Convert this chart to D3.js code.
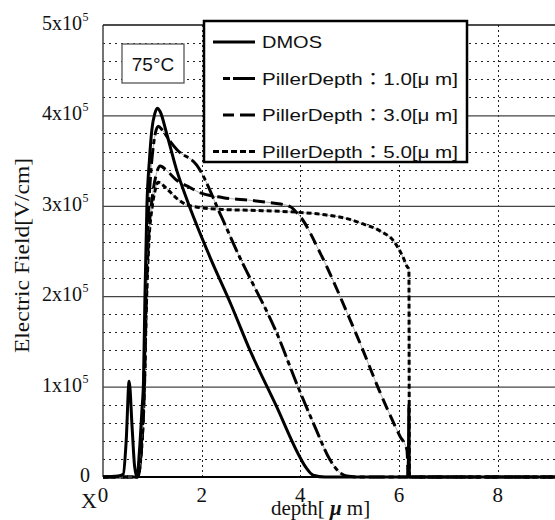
<!DOCTYPE html>
<html>
<head>
<meta charset="utf-8">
<script src="https://cdn.jsdelivr.net/npm/d3@7"></script>
<style>
  body { margin: 0; background: #fff; }
  svg { display: block; }
</style>
</head>
<body>
<svg id="chart" width="555" height="520"></svg>
<script>
// values, field in units of 1x10^5 V/cm
const dmosDepth = [0, 0.30, 0.41, 0.47, 0.53, 0.59, 0.64, 0.69, 0.74, 0.79, 0.82, 0.85, 0.89, 0.94, 0.99, 1.05, 1.10, 1.16, 1.29, 1.49, 1.70, 2.17, 2.60, 2.98, 3.50, 4.00, 4.12, 4.26, 4.50, 6.17, 6.19, 6.20, 6.21, 10];
const dmosField = [0, 0.01, 0.03, 0.40, 1.06, 0.55, 0.12, 0, 0.30, 0.75, 1.05, 2.00, 3.00, 3.50, 3.84, 4.02, 4.08, 4.04, 3.80, 3.40, 3.07, 2.43, 1.90, 1.40, 0.80, 0.21, 0.10, 0.02, 0, 0, 0.20, 0.80, 0, 0];

const p1Depth = [0, 0.70, 0.77, 0.83, 0.87, 0.91, 0.96, 1.02, 1.12, 1.20, 1.35, 1.50, 1.90, 2.40, 2.78, 2.98, 3.50, 3.95, 4.30, 4.60, 4.80, 4.94, 5.20, 10];
const p1Field = [0, 0, 0.30, 1.00, 2.00, 2.80, 3.30, 3.66, 3.88, 3.84, 3.72, 3.62, 3.45, 2.88, 2.42, 2.20, 1.62, 1.00, 0.55, 0.19, 0.05, 0.01, 0, 0];

const p3Depth = [0, 0.70, 0.78, 0.84, 0.88, 0.93, 1.00, 1.08, 1.16, 1.29, 1.50, 1.77, 1.90, 2.44, 3.00, 3.31, 3.60, 3.80, 3.90, 4.00, 4.40, 5.00, 5.21, 5.62, 6.02, 6.16, 6.19, 10];
const p3Field = [0, 0, 0.30, 1.00, 2.00, 2.70, 3.10, 3.35, 3.44, 3.39, 3.28, 3.20, 3.16, 3.09, 3.06, 3.04, 3.02, 2.99, 2.94, 2.88, 2.48, 1.75, 1.48, 0.93, 0.45, 0.30, 0, 0];

const p5Depth = [0, 0.70, 0.78, 0.84, 0.88, 0.93, 1.00, 1.06, 1.12, 1.29, 1.50, 1.76, 2.40, 3.00, 3.90, 4.50, 5.00, 5.21, 5.62, 5.89, 6.09, 6.16, 6.20, 6.21, 10];
const p5Field = [0, 0, 0.30, 1.00, 1.90, 2.60, 3.00, 3.18, 3.26, 3.19, 3.08, 3.00, 2.96, 2.95, 2.93, 2.90, 2.85, 2.81, 2.72, 2.61, 2.42, 2.33, 2.30, 0, 0];

const seriesNames = ["DMOS", "PillerDepth\uFF1A1.0[\u03BC m]", "PillerDepth\uFF1A3.0[\u03BC m]", "PillerDepth\uFF1A5.0[\u03BC m]"];
const xTicks = [0, 2, 4, 6, 8];
const xGrid = [2, 4, 6, 8, 10];
const yTicks = [0, 1, 2, 3, 4, 5];
const yMinorTicks = [0.2, 0.4, 0.6, 0.8, 1.2, 1.4, 1.6, 1.8, 2.2, 2.4, 2.6, 2.8, 3.2, 3.4, 3.6, 3.8, 4.2, 4.4, 4.6, 4.8];
const tempLabel = "75\u00B0C";

const serif = "'Liberation Serif', 'Times New Roman', serif";
const sans = "'Liberation Sans', Arial, 'Noto Sans CJK JP', sans-serif";

const svg = d3.select("#chart");

const x = d3.scaleLinear().domain([0, 10]).range([103, 596.4]);
const y = d3.scaleLinear().domain([0, 5]).range([477, 25]);
const right = 555;

// minor dotted horizontal grid
svg.append("g")
    .attr("transform", `translate(${x(0)},0)`)
    .call(d3.axisLeft(y).tickValues(yMinorTicks).tickSize(-(right - x(0))).tickFormat(""))
    .call(g => g.select(".domain").remove())
    .call(g => g.selectAll(".tick line")
        .attr("stroke", "#222")
        .attr("stroke-width", 1)
        .attr("shape-rendering", "crispEdges")
        .attr("stroke-dasharray", "2,4"));

// vertical dotted grid
svg.append("g")
    .attr("transform", `translate(0,${y(0)})`)
    .call(d3.axisBottom(x).tickValues(xGrid).tickSize(-(y(0) - y(5))).tickFormat(""))
    .call(g => g.select(".domain").remove())
    .call(g => g.selectAll(".tick line")
        .attr("stroke", "#222")
        .attr("stroke-width", 1)
        .attr("shape-rendering", "crispEdges")
        .attr("stroke-dasharray", "2,3"));

// solid major horizontal grid
svg.append("g")
    .attr("transform", `translate(${x(0)},0)`)
    .call(d3.axisLeft(y).tickValues(yTicks.filter(d => d > 0 && d < 5)).tickSize(-(right - x(0))).tickFormat(""))
    .call(g => g.select(".domain").remove())
    .call(g => g.selectAll(".tick line").attr("stroke", "#444").attr("stroke-width", 1.2));

// frame: left, top, bottom
svg.append("line").attr("x1", x(0)).attr("x2", x(0)).attr("y1", y(5)).attr("y2", y(0))
    .attr("stroke", "#444").attr("stroke-width", 1.5);
svg.append("line").attr("x1", x(0)).attr("x2", right).attr("y1", y(5)).attr("y2", y(5))
    .attr("stroke", "#111").attr("stroke-width", 1.5);
svg.append("line").attr("x1", x(0)).attr("x2", right).attr("y1", y(0)).attr("y2", y(0))
    .attr("stroke", "#000").attr("stroke-width", 2);

// y tick labels  "n x10^5"
const yLab = svg.append("g").attr("font-family", serif).attr("fill", "#111");
yTicks.forEach(d => {
    if (d === 0) {
        yLab.append("text").attr("x", 90).attr("y", y(d) + 5)
            .attr("text-anchor", "end").attr("font-size", 20).text("0");
    } else {
        yLab.append("text").attr("x", 82).attr("y", y(d) + 5)
            .attr("text-anchor", "end").attr("font-size", 20).text(`${d}x10`);
        yLab.append("text").attr("x", 82.5).attr("y", y(d) - 4)
            .attr("font-size", 12).text("5");
    }
});

// x tick labels
const xLab = svg.append("g").attr("font-family", serif).attr("fill", "#111");
xTicks.forEach(d => {
    xLab.append("text").attr("x", x(d)).attr("y", 502)
        .attr("text-anchor", "middle").attr("font-size", 21).text(d);
});
xLab.append("text").attr("x", 97).attr("y", 508)
    .attr("text-anchor", "end").attr("font-size", 22).text("X");

// axis titles
const xt = svg.append("text").attr("x", 271).attr("y", 515)
    .attr("font-family", serif).attr("font-size", 21).attr("fill", "#111");
xt.append("tspan").text("depth[ ");
xt.append("tspan").attr("font-weight", "bold").attr("font-style", "italic").text("\u03BC");
xt.append("tspan").text(" m]");

svg.append("text")
    .attr("transform", "translate(29,255.5) rotate(-90)")
    .attr("text-anchor", "middle")
    .attr("font-family", serif).attr("font-size", 22).attr("fill", "#111")
    .attr("textLength", 195).attr("lengthAdjust", "spacingAndGlyphs")
    .text("Electric Field[V/cm]");

// series
svg.append("clipPath").attr("id", "plotclip")
    .append("rect").attr("x", x(0)).attr("y", 0).attr("width", right - x(0)).attr("height", y(0) + 3);

const line = d3.line()
    .x(d => x(d[0]))
    .y(d => y(d[1]))
    .curve(d3.curveMonotoneX);

const series = [
    { name: seriesNames[3], pts: d3.zip(p5Depth, p5Field), dash: "5,3" },
    { name: seriesNames[2], pts: d3.zip(p3Depth, p3Field), dash: "12,6" },
    { name: seriesNames[1], pts: d3.zip(p1Depth, p1Field), dash: "16,4,5,4" },
    { name: seriesNames[0], pts: d3.zip(dmosDepth, dmosField), dash: null }
];

const plot = svg.append("g").attr("clip-path", "url(#plotclip)");
series.forEach(s => {
    if (s.dash) {
        plot.append("path").datum(s.pts)
            .attr("fill", "none").attr("stroke", "#999").attr("stroke-width", 0.8)
            .attr("d", line);
    }
    plot.append("path").datum(s.pts)
        .attr("fill", "none").attr("stroke", "#000").attr("stroke-width", 3)
        .attr("stroke-linejoin", "round")
        .attr("stroke-dasharray", s.dash)
        .attr("d", line);
});

// temperature box
svg.append("rect").attr("x", 122).attr("y", 44).attr("width", 62).attr("height", 39)
    .attr("fill", "#fff").attr("stroke", "#555").attr("stroke-width", 1.3);
svg.append("text").attr("x", 153).attr("y", 70.5).attr("text-anchor", "middle")
    .attr("font-family", sans).attr("font-size", 19).attr("fill", "#111").text(tempLabel);

// legend
const legend = svg.append("g");
legend.append("rect").attr("x", 204).attr("y", 21).attr("width", 263).attr("height", 141)
    .attr("fill", "#fff").attr("stroke", "#000").attr("stroke-width", 2.5);

const legendRows = [
    { name: seriesNames[0], x1: 213, dash: null, width: 60 },
    { name: seriesNames[1], x1: 223, dash: "7,3,22", width: 196 },
    { name: seriesNames[2], x1: 223, dash: "11,6,15", width: 196 },
    { name: seriesNames[3], x1: 213, dash: "6,3", width: 196 }
];
legendRows.forEach((r, i) => {
    const cy = 42 + i * 36.5;
    legend.append("line").attr("x1", r.x1).attr("x2", 255).attr("y1", cy).attr("y2", cy)
        .attr("stroke", "#000").attr("stroke-width", 3)
        .attr("stroke-dasharray", r.dash);
    legend.append("text").attr("x", 262).attr("y", cy + 6)
        .attr("font-family", sans).attr("font-size", 17).attr("fill", "#111")
        .attr("textLength", r.width).attr("lengthAdjust", "spacingAndGlyphs")
        .text(r.name);
});
</script>
</body>
</html>
